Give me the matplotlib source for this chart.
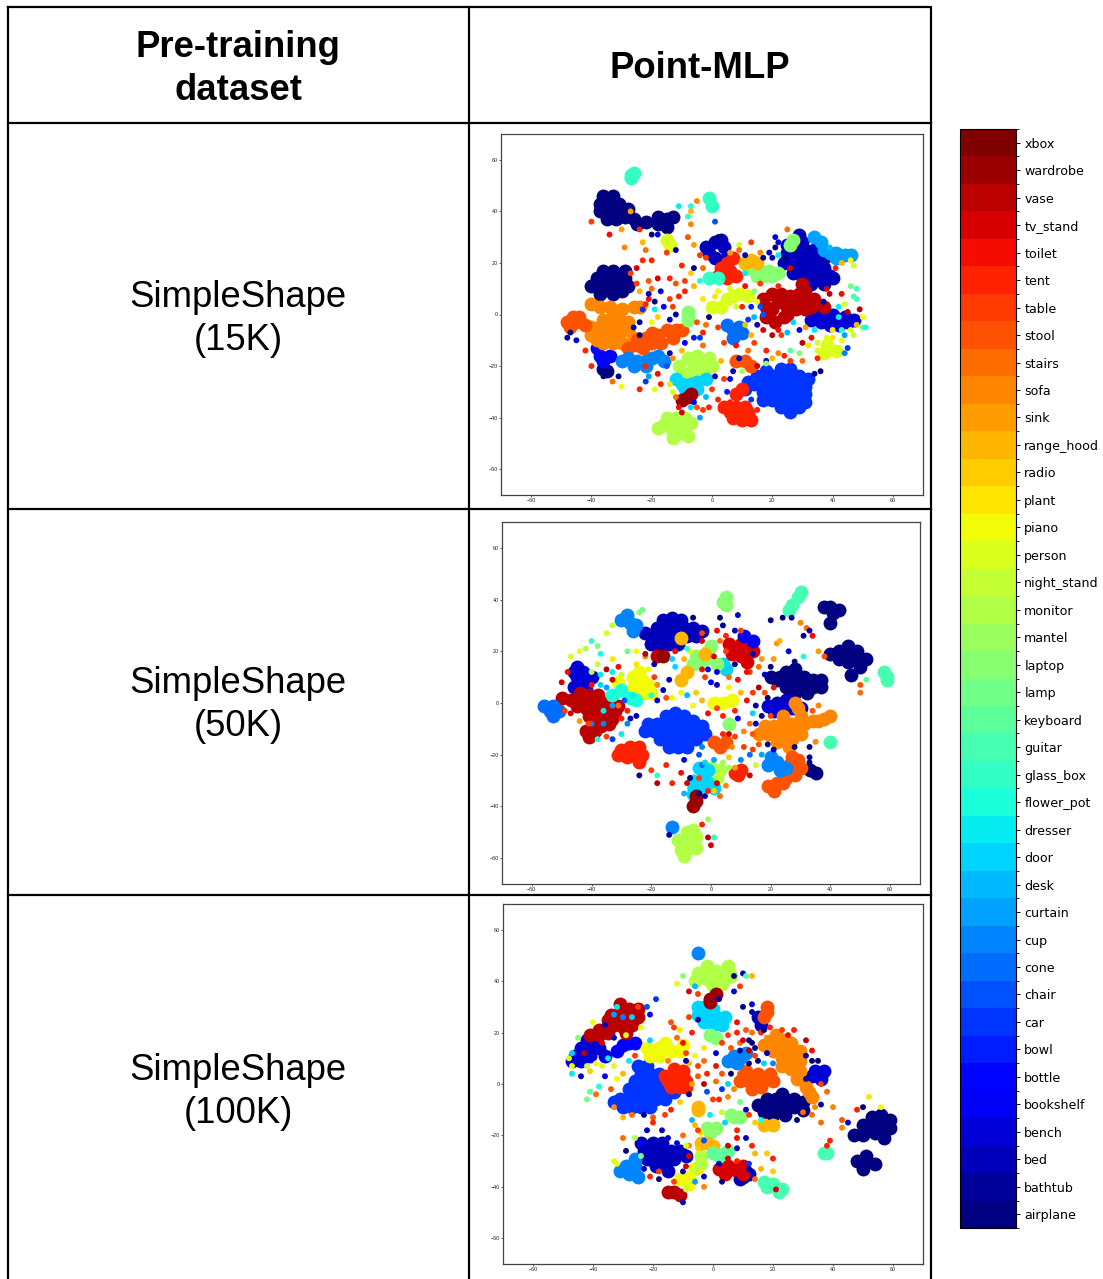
# -*- coding: utf-8 -*-
import matplotlib
matplotlib.use('Agg')
import numpy as np
import matplotlib.pyplot as plt
from matplotlib.colors import BoundaryNorm, ListedColormap
from matplotlib.colorbar import ColorbarBase

W, H = 1103, 1279
classes = ['airplane', 'bathtub', 'bed', 'bench', 'bookshelf', 'bottle', 'bowl', 'car', 'chair', 'cone',
           'cup', 'curtain', 'desk', 'door', 'dresser', 'flower_pot', 'glass_box', 'guitar', 'keyboard', 'lamp',
           'laptop', 'mantel', 'monitor', 'night_stand', 'person', 'piano', 'plant', 'radio', 'range_hood', 'sink',
           'sofa', 'stairs', 'stool', 'table', 'tent', 'toilet', 'tv_stand', 'vase', 'wardrobe', 'xbox']
row_names = ['SimpleShape\n(15K)', 'SimpleShape\n(50K)', 'SimpleShape\n(100K)']
ticks = [-60, -40, -20, 0, 20, 40, 60]

# dense clusters, read by eye: class, [(x, y), ...]
p1_airplane = [(-36,46),(-33,46),(-37,43),(-34,43),(-31,43),(-37,40),(-34,40),(-31,40),(-28,41),(-35,37),(-32,37),
               (-26,37),(-25,35),(-18,38),(-15,37),(-18,35),(-15,34),(-36,17),(-33,17),(-38,14),(-35,14),(-32,14),
               (-29,14),(-40,11),(-37,11),(-34,11),(-31,11),(-37,8),(-33,8),(-30,9),(-35,-22),(-36,-21),
               (-29,38),(-22,36),(-13,38),(-28,11),(-29,17)]
p1_bed = [(30,28),(27,25),(31,25),(34,25),(28,22),(31,22),(34,21),(28,19),(31,18),(34,18),(37,18),(39,15),(30,15),
          (33,15),(36,14),(40,14),(37,12),(1,28),(4,26),(-1,24),(1,22),(4,21),(25,27),(24,20),(27,16),(33,12),(25,24),
          (37,22),(-2,26),(6,22),(3,29),(29,31)]
p1_bench = [(35,0),(38,-2),(42,-2),(45,-3),(42,-4),(47,-2),(36,-3),(40,0),(33,-2),(44,-1),(39,-4)]
p1_vase = [(20,8),(22,5),(25,3),(28,5),(31,5),(34,6),(28,2),(24,-1),(21,-3),(20,2),(30,12),(31,9),(17,6),(18,3),(23,8),
           (26,7),(29,8),(33,3),(37,3),(18,-1),(25,0),(31,2)]
p1_car = [(23,-21),(26,-21),(20,-24),(23,-24),(26,-24),(29,-24),(32,-25),(14,-27),(17,-27),(20,-27),(23,-27),(26,-27),
          (29,-27),(31,-28),(11,-29),(17,-30),(20,-30),(23,-30),(26,-30),(29,-30),(31,-31),(20,-33),(23,-33),(26,-33),
          (29,-33),(31,-34),(23,-36),(26,-36),(29,-36),(15,-24),(18,-22),(12,-26),(17,-33),(26,-38)]
p1_cone = [(5,-4),(7,-6),(10,-7),(7,-9),(9,-5)]
p1_bottle = [(-37,-16),(-34,-16),(-38,-13),(-36,-18)]
p1_sofa = [(-40,-5),(-37,-5),(-34,-5),(-31,-5),(-28,-6),(-40,-8),(-37,-8),(-34,-8),(-31,-8),(-36,-2),(-33,-2),(-30,-3),
           (-36,-11),(-33,-11),(-30,-11),(-40,4),(-37,3),(-34,3),(-30,2),(-26,3),(-24,3),(-26,-9),(-28,-3),(-33,0),(-38,-10)]
p1_stool = [(-48,-3),(-45,-3),(-47,-5),(-44,-1),(-42,-4),(-25,-10),(-22,-9),(-20,-11),(-18,-8),(-15,-6),(-12,-6),
            (-25,-12),(-28,-13),(-10,-6),(8,-18),(11,-18),(13,-20),(-46,-1),(-23,-13),(-17,-11),(-13,-9),(-20,-7)]
p1_tent = [(6,-38),(9,-38),(12,-38),(7,-40),(10,-41),(13,-41),(8,-36),(11,-36),(4,-36),(8,-31),(10,-29),
           (5,20),(3,18),(6,17),(2,15),(5,14),(7,22),(8,15)]
p1_monitor = [(-13,-43),(-10,-43),(-16,-43),(-13,-46),(-10,-46),(-15,-40),(-12,-40),(-9,-40),(-7,-42),(-18,-44),
              (-13,-48),(-8,-47),(-8,-17),(-6,-20),(-3,-19),(-9,-23),(-6,-23),(-3,-22),(0,-20),(-11,-20),(-5,-16),(-1,-17)]
p1_door = [(-10,-27),(-7,-27),(-5,-29),(-12,-25),(-2,-25),(-9,-29),(-5,-26)]
p1_wardrobe = [(-8,-32),(-10,-33),(-7,-31)]
p1_cup = [(-28,-17),(-25,-18),(-22,-18),(-20,-17),(-30,-18),(-18,-16),(-26,-20),(-22,-20),(-16,-18)]
p1_lamp = [(16,17),(19,17),(17,15),(20,15),(15,19),(-8,1),(-8,-1),(27,29),(26,27),(12,18),(22,16),(15,15),(-8,-2)]
p1_range_hood = [(13,21),(15,20),(11,20)]
p1_glass_box = [(-1,45),(0,42),(-27,54),(-26,55),(-27,53),(-1,14),(2,14)]
p1_curtain = [(41,24),(44,23),(39,24),(46,23),(41,22),(36,28),(34,30),(37,25)]
p1_person = [(0,3),(5,6),(9,8),(12,7),(-15,29),(-14,27),(38,-12),(41,-14),(37,-15),(3,3),(7,7)]

p2_airplane = [(46,19),(43,20),(46,22),(49,20),(43,17),(46,16),(49,17),(52,17),(50,14),(40,37),(38,37),(41,35),(43,36),
               (40,31),(28,10),(25,9),(22,9),(31,10),(34,9),(28,7),(25,6),(31,7),(34,6),(37,6),(28,4),(32,4),(28,13),
               (25,12),(23,10),(47,11),(33,-26),(35,-27),(20,10),(37,9),(40,19)]
p2_bed = [(-16,32),(-13,33),(-10,32),(-18,29),(-15,29),(-12,29),(-9,29),(-6,29),(-20,26),(-17,26),(-14,26),(-11,26),
          (-8,26),(-20,23),(-17,23),(-14,23),(22,0),(25,1),(-5,26),(-22,27),(-11,23),(-3,28)]
p2_bench = [(-45,14),(-43,12),(-45,10),(-43,8),(-46,6),(-42,5),(27,-2),(30,-2),(21,-3),(-40,10),(-46,12),(24,-2),(19,-1)]
p2_car = [(-15,-5),(-12,-4),(-9,-5),(-6,-7),(-21,-8),(-18,-8),(-15,-8),(-12,-8),(-9,-8),(-6,-9),(-3,-9),(-22,-11),
          (-19,-11),(-16,-11),(-13,-11),(-10,-11),(-7,-11),(-4,-11),(-17,-14),(-14,-14),(-11,-14),(-8,-14),(-5,-14),
          (-14,-17),(-11,-17),(-8,-17),(-2,-12)]
p2_vase = [(-50,2),(-47,1),(-44,1),(-41,0),(-38,0),(-35,0),(-42,-2),(-38,-3),(-35,-3),(-32,-3),(-41,-5),(-37,-6),(-33,-6),
           (-42,-11),(-39,-11),(-41,-13),(-37,-9),(-44,4),(-41,3),(-18,18),(-38,3),(-34,-8),(-39,-8),(-45,-1),(-31,-1)]
p2_tent = [(-27,-17),(-30,-18),(-26,-20),(-23,-20),(-28,-21),(-24,-23),(9,-28),(10,-26),(8,-27),(-31,-20),(-24,-17)]
p2_cone = [(-53,-1),(-54,-3),(-51,-3),(-53,-5),(-56,-1)]
p2_sofa = [(18,-9),(21,-9),(24,-8),(27,-8),(19,-12),(22,-12),(25,-11),(28,-11),(31,-8),(24,-14),(27,-14),(22,-15),(30,-5),
           (24,-5),(38,-6),(36,-7),(40,-5),(29,-2),(28,0),(34,-7),(16,-12),(30,-12),(26,-17)]
p2_stool = [(26,-24),(29,-22),(30,-25),(27,-27),(25,-29),(22,-31),(19,-32),(21,-34),(24,-31),(28,-28),(1,-15),(3,-17),(27,-21),(24,-27),(5,-15)]
p2_cup = [(20,-21),(22,-23),(23,-26),(25,-25),(-30,32),(-27,31),(-25,30),(-28,34),(-13,-48),(19,-24),(-26,28)]
p2_monitor = [(-8,-53),(-5,-52),(-8,-50),(-11,-53),(-8,-56),(-5,-56),(-9,-59),(-6,-49),(-10,-57),(0,-25),(-1,-28),(3,-26),(2,-29)]
p2_door = [(-4,-25),(-1,-26),(-1,-31),(-3,-30),(-5,-33),(-2,-32),(4,15),(5,13),(-6,-30),(1,-33),(-6,-35)]
p2_wardrobe = [(-5,-38),(-5,-36),(-6,-40),(-16,18)]
p2_piano = [(-26,10),(-23,9),(-26,6),(-23,5),(-28,4),(-21,7),(1,0),(4,0),(7,1),(-24,12),(-20,4),(-31,8)]
p2_flower = [(-30,5),(-27,2),(-33,3),(-25,1)]
p2_lamp = [(5,41),(4,39),(5,38),(-4,16),(-6,15),(0,22),(-1,20),(2,15),(6,-8),(-5,18),(-2,17)]
p2_guitar = [(27,38),(26,36),(29,41),(30,43),(59,9),(59,10),(58,12),(40,-15)]
p2_tv_stand = [(8,21),(10,18),(12,16),(7,19),(12,23),(6,23),(10,23),(14,20)]
p2_bookshelf = [(14,24),(11,26)]
p2_range_hood = [(-8,12),(-10,9),(-10,25),(-2,19)]

p3_airplane = [(53,-13),(56,-12),(59,-14),(50,-16),(53,-16),(56,-16),(59,-17),(47,-20),(50,-20),(54,-19),(57,-21),(48,-30),
               (51,-30),(54,-31),(50,-33),(51,-28),(18,-6),(21,-6),(24,-6),(27,-6),(15,-8),(18,-9),(21,-9),(24,-9),(27,-9),
               (30,-7),(20,-12),(24,-12),(23,-4),(30,-10),(17,-11)]
p3_bed = [(-20,-23),(-17,-23),(-23,-26),(-20,-26),(-17,-26),(-14,-26),(-11,-26),(-22,-29),(-19,-29),(-16,-29),(-13,-29),
          (-19,-32),(-16,-32),(10,-36),(12,-35),(9,-37),(15,26),(16,23),(-24,-23),(-15,-34),(-9,-28)]
p3_bench = [(34,5),(35,4),(37,5),(33,3),(36,2),(-42,17),(-39,17),(-44,14),(-41,14),(-38,14),(-46,11),(-44,9),(-36,11),(-47,9),(-41,11)]
p3_bottle = [(-30,15),(-28,16),(-32,13),(-26,16)]
p3_car = [(-25,7),(-22,7),(-24,4),(-21,4),(-18,4),(-26,1),(-23,1),(-20,1),(-17,1),(-28,-2),(-25,-2),(-22,-2),(-19,-2),(-16,-3),
          (-13,-3),(-31,-6),(-28,-5),(-25,-5),(-22,-5),(-19,-6),(-16,-6),(-30,-9),(-27,-9),(-24,-9),(-21,-9),(-33,-7)]
p3_toilet = [(-16,3),(-13,4),(-10,3),(-15,1),(-12,1),(-9,1),(-14,-1),(-11,-1),(-13,6),(-10,5),(-9,-1)]
p3_vase = [(-34,27),(-31,28),(-28,29),(-25,29),(-35,25),(-31,25),(-28,25),(-33,23),(-30,22),(-27,23),(-38,21),(-41,19),(-35,20),
           (-13,-42),(-11,-43),(-15,-42),(-38,19),(-31,31),(-25,26),(-29,20)]
p3_sofa = [(20,17),(23,17),(26,16),(20,13),(23,13),(26,13),(29,13),(23,10),(26,10),(29,9),(26,6),(29,5),(28,2),(31,-1),(33,-5),(17,15),(23,7),(32,-3),(21,19)]
p3_stool = [(12,1),(15,1),(18,2),(13,-2),(16,-1),(19,4),(17,26),(18,28),(18,30),(15,4),(20,1),(11,5),(9,1)]
p3_cup = [(7,11),(9,10),(8,8),(11,12),(-29,-32),(-26,-32),(-28,-35),(-25,-36),(-31,-34),(-5,51),(5,9),(-26,-29)]
p3_monitor = [(-2,44),(1,44),(4,44),(-5,43),(-2,41),(1,41),(4,41),(0,38),(3,39),(-6,-33),(-4,-31),(-4,-28),(5,46),(-6,40),(-2,46),(6,42)]
p3_door = [(-3,30),(0,29),(-5,27),(-2,26),(1,26),(4,26),(-3,24),(0,23),(3,23),(-5,30)]
p3_wardrobe = [(-1,32),(-1,33),(1,35)]
p3_lamp = [(6,-12),(7,-13),(9,-13),(-2,-17),(1,-17),(-1,19),(1,18),(-1,-19)]
p3_guitar = [(17,-38),(18,-40),(20,-39),(22,-42),(23,-41),(37,-27),(38,-27)]
p3_radio = [(-2,-23),(0,-24),(-5,-9),(-5,-10),(20,-16),(17,-16),(-4,-23)]
p3_tv_stand = [(5,-32),(8,-33),(10,-32),(4,-35),(10,-35),(2,-33)]
p3_piano = [(-22,14),(-18,14),(-14,13),(-21,11),(-11,13),(-16,16),(-8,-36),(-11,-37),(-18,11),(-10,15),(-8,-39)]
p3_keyboard = [(0,-27),(4,-27),(2,-28),(5,-26)]

# sparse single points: (x, y, class index)
p1_dots = [(-45,-10,3),(-48,-9,1),(-47,-7,0),(-42,-14,34),(-40,-20,34),(-36,-24,0),(-31,-24,1),(-33,-26,31),(-30,-28,25),
           (-22,-20,34),(-18,-23,35),(-22,-26,7),(-19,-29,24),(-14,-27,26),(-12,-32,31),(-10,-38,36),(-5,-36,32),(-4,-40,11),
           (-3,-37,33),(-1,-36,34),(0,-29,33),(2,-33,34),(3,-37,34),(5,-30,6),(4,-25,33),(7,-22,2),(-2,-32,12),(-6,-34,4),
           (-24,-3,0),(-26,-5,2),(-24,-8,0),(-23,2,7),(-20,-3,25),(-18,-1,27),(-14,-2,3),(-12,0,1),(-9,-11,5),(-6,-9,6),
           (-4,-9,7),(-3,-7,34),(-2,-4,31),(2,-5,33),(4,-11,33),(8,-12,35),(12,-14,31),(14,-11,33),(13,-8,28),(11,-4,28),
           (15,-4,2),(14,-1,12),(17,0,8),(17,-6,36),(20,-8,37),(22,-6,35),(25,-7,12),(29,-6,3),(33,-9,35),(30,-11,37),
           (26,-14,18),(29,-15,20),(32,-12,26),(35,-14,24),(40,-9,26),(44,-8,11),(46,-6,24),(48,-4,28),(50,-1,25),(49,2,37),
           (45,1,37),(42,3,14),(44,4,24),(50,-5,19),(46,11,19),(43,8,35),(39,8,37),(37,5,2),(30,-18,31),(24,-16,34),
           (22,-15,30),(18,-14,34),(18,-18,2),(34,-23,1),(35,-17,34),(44,-15,10),(45,-13,7),
           (-23,21,34),(-25,18,36),(-27,16,33),(-21,13,32),(-20,10,31),(-24,9,28),(-21,6,35),(-17,9,3),(-19,5,0),(-22,4,34),
           (-19,2,14),(-14,6,33),(-11,7,34),(-9,9,34),(-12,12,32),(-9,13,33),(-6,11,28),(-4,13,15),(-7,16,27),(-3,18,31),
           (-2,22,33),(-6,27,29),(-8,30,32),(-12,25,1),(-15,24,33),(-20,21,34),(-22,25,31),(-23,28,28),(-20,31,0),(-18,31,3),
           (-24,33,34),(-30,33,29),(-29,26,30),(-40,36,33),(-34,31,35),(-27,40,29),(-8,38,16),(-7,42,15),(-11,42,14),(-7,35,30),
           (-7,40,28),(-5,44,30),(1,36,8),(2,30,0),(6,24,29),(9,27,24),(11,23,2),(13,28,33),(8,21,34),(16,24,30),(21,30,4),
           (25,33,31),(22,28,3),(19,24,2),(24,22,0),(26,18,36),(22,11,34),(16,12,33),(14,9,20),(11,11,35),(13,3,6),(15,5,25),
           (8,3,24),(1,7,26),(-1,-1,0),(-10,-14,28),(-14,-15,1),(-3,-12,31),(47,7,17),(48,10,17),(51,-5,15),(42,-1,14),(9,-17,2),
           (-21,-24,11),(-24,-29,34),(-15,-20,8),(-13,-17,30),(-17,-27,34),(-13,-30,24),(-7,-36,13),(-11,-36,35),(1,-24,2),(3,-18,28),
           (6,-25,5),(6,-34,34),(13,-33,7),(15,-37,34),(10,-22,21),(15,-20,36),(20,-17,28),(18,-19,20),(26,-18,33),(36,-22,0),
           (40,-6,26),(35,-11,24),(38,-9,24),(43,-10,25),(47,-8,23),(43,-6,15),(34,-6,14),(31,-5,29),(27,-3,13),(23,-8,33),
           (12,-2,7),(16,3,8),(10,3,34),(6,10,24),(2,9,25),(-3,6,26),(-5,-3,32),(-13,3,33),(-16,3,5),(-21,8,2),(-25,12,33),
           (-18,14,36),(-14,14,34),(-10,19,34),(-6,18,1),(-4,23,33),(9,25,31),(11,16,14),(17,22,1),(20,22,2),(21,26,0),(22,23,14),
           (39,26,12),(43,20,28),(46,21,25),(47,19,24),(41,18,34),(38,10,36),(48,6,17)]
p2_dots = [(-40,24,16),(-38,22,20),(-37,19,15),(-33,17,26),(-31,14,35),(-35,13,37),(-38,15,23),(-40,12,22),(-37,11,14),
           (-33,9,36),(-35,6,11),(-31,-1,31),(-28,-3,34),(-25,-5,2),(-28,-8,10),(-30,-12,14),(-33,-14,7),(-38,-14,15),
           (-35,-13,33),(-44,-7,29),(-47,-4,36),(-40,-8,10),(-50,8,36),(-48,12,35),(-47,18,24),(-44,20,25),(-42,21,22),
           (-28,20,19),(-25,20,25),(-22,18,30),(-14,9,2),(-16,5,2),(-18,7,30),(-20,3,15),(-18,1,2),(-15,2,32),(-13,2,25),
           (-10,4,25),(-8,3,12),(-5,4,27),(-6,-1,25),(-3,1,28),(-1,-4,35),(2,-2,33),(4,-5,34),(8,-3,34),(9,-6,5),(6,-12,36),
           (8,-13,33),(11,-11,30),(13,-8,31),(14,-4,13),(15,-1,1),(12,1,35),(14,4,33),(16,6,37),(18,4,32),(10,4,28),(6,6,25),
           (2,7,2),(0,8,5),(-2,10,33),(-1,13,4),(2,12,3),(6,10,31),(9,9,35),(13,12,33),(16,14,31),(18,11,2),(20,14,0),(21,17,29),
           (26,20,3),(28,16,1),(31,18,15),(22,23,29),(23,24,28),(9,34,2),(3,33,0),(4,30,1),(8,28,2),(14,19,1),(30,31,30),(32,29,31),
           (27,33,1),(24,33,0),(20,32,0),(31,26,0),(33,28,2),(34,26,35),(50,7,32),(50,4,31),(52,9,18),(38,18,32),(36,20,29),(-3,27,33),
           (-3,24,36),(2,28,35),(-6,33,0),(-24,35,20),(-23,36,19),(-33,30,23),(-35,27,24),(-9,-22,2),(-4,-20,8),(-3,-24,9),(-3,-17,10),
           (-15,-24,34),(-20,-26,33),(-18,-28,16),(-24,-28,1),(-18,-31,37),(-10,-27,35),(-8,-31,36),(-7,-29,0),(-9,-35,12),(5,-32,30),
           (3,-36,31),(8,-25,29),(10,-22,10),(13,-20,9),(14,-18,33),(15,-24,23),(13,-28,36),(16,-16,32),(17,-20,11),(33,-23,0),(35,-15,30),
           (-2,-36,2),(1,-34,27),(-3,-47,34),(-1,-45,21),(1,-52,16),(0,-55,36),(-1,-52,37),(-14,-51,2),(6,-25,21),(-13,-31,34),
           (-36,-3,14),(-33,-1,11),(-39,-6,36),(-36,-8,10),(-41,-8,33),(-30,-6,34),(-27,-6,2),(-29,1,8),(-26,3,14),(-22,2,24),(-25,15,26),
           (-21,13,25),(-19,10,33),(-33,12,14),(-30,11,23),(-37,7,13),(-40,7,35),(-49,-3,33),(-2,-23,13),(1,-22,11),(4,-23,21),(6,-21,27),
           (-4,-29,33),(2,-31,36),(-1,-34,34),(-4,-35,0),(-7,-33,13),(3,-28,23),(7,-17,30),(4,-12,34),(11,-17,33),(14,-12,32),(19,-16,0),
           (21,-18,2),(28,-17,0),(33,-17,0),(33,-21,1),(15,-8,2),(17,-5,1),(19,2,0),(21,6,35),(17,17,29),(20,-5,33),(34,-3,32),(36,-1,30),
           (-12,20,35),(-9,17,28),(-12,14,13),(-7,20,25),(-3,13,35),(1,18,36),(5,20,33),(8,15,1),(12,12,35),(3,24,31),(5,26,34),(10,28,33),
           (-22,19,37),(-19,15,1),(-13,17,13),(-8,21,16)]
p3_dots = [(-48,10,24),(-47,7,25),(-47,4,14),(-44,3,2),(-41,5,27),(-39,8,25),(-35,10,14),(-33,7,24),(-30,4,28),(-36,3,5),
           (-38,-1,15),(-41,-3,18),(-42,-6,19),(-39,-4,31),(-34,-2,32),(-33,-9,30),(-30,-13,28),(-27,-12,31),(-23,-12,1),(-20,-13,32),
           (-16,-12,33),(-14,-10,34),(-11,-7,27),(-8,-4,1),(-7,0,29),(-5,3,32),(-3,0,37),(-2,-3,8),(0,-6,33),(2,-6,34),(5,-5,30),
           (7,-2,30),(9,-7,19),(11,-10,2),(-1,-12,14),(3,-11,23),(-7,-14,12),(-6,-16,28),(-4,-19,26),(4,-15,13),(8,-18,34),(11,-21,2),
           (13,-24,34),(8,-21,35),(8,-25,2),(5,-24,36),(14,-27,28),(18,-27,27),(20,-29,34),(12,-31,7),(16,-33,28),(20,-34,27),(14,-37,31),
           (21,-41,36),(-30,-21,31),(-26,-21,22),(-24,-23,5),(-24,-28,19),(-29,-26,0),(-32,-31,25),(-21,-36,34),(-18,-37,0),(-13,-38,33),
           (-8,-24,30),(-8,-28,36),(-10,-34,2),(-6,-38,11),(-3,-40,30),(-9,-41,23),(-10,-46,2),(-3,-36,2),(-3,-22,8),(-10,-20,31),(-17,-18,2),
           (-22,-18,2),(-15,-21,3),(-20,-15,34),(-5,-18,33),(5,0,13),(3,4,32),(1,7,35),(-3,9,31),(-6,11,25),(-8,8,28),(-3,14,26),(1,12,3),
           (3,16,33),(6,14,32),(9,16,31),(12,17,0),(14,14,0),(16,20,34),(18,18,30),(13,20,31),(8,24,35),(11,21,32),(10,30,0),(13,31,3),
           (13,28,2),(17,21,0),(27,21,34),(25,19,35),(31,17,37),(33,13,35),(35,9,0),(31,2,0),(36,0,33),(38,-3,31),(40,-9,30),(36,-8,2),
           (33,-12,31),(30,-11,31),(28,-14,0),(12,-12,33),(14,-15,27),(16,-14,15),(36,-15,31),(43,-14,32),(43,-17,30),(45,-15,2),(39,-22,34),
           (38,-24,34),(48,-10,34),(50,-9,0),(52,-5,26),(56,-9,25),(-9,12,33),(-12,18,31),(-13,22,33),(-14,24,32),(-11,21,26),(-10,16,35),
           (-7,20,34),(-5,25,1),(-8,26,33),(-19,33,7),(-21,27,5),(-22,30,8),(-24,22,25),(-29,19,24),(-40,24,25),(-45,18,20),(-47,12,13),
           (10,43,2),(7,42,0),(11,42,18),(13,42,28),(9,38,33),(-10,42,20),(-8,36,36),(-12,39,24),(-5,35,33),(-6,38,12),(7,36,3),(2,33,2),
           (-33,27,11),(-30,26,10),(-27,26,13),(-32,30,14),(-25,30,33),(-36,23,2),(-33,18,3),(-37,16,36),(-43,12,37),(-42,7,23),(-37,7,24),
           (-32,2,25),(-28,9,14),(-26,11,33),(-21,17,13),(-15,9,30),(-9,9,1),(-5,7,33),(-2,4,34),(1,1,31),(3,-2,7),(6,4,0),(9,4,32),(12,8,0),
           (15,9,0),(17,8,13),(20,8,10),(18,12,2),(14,11,33),(12,13,37),(9,13,1),(5,19,33),(8,20,34),(10,17,36),(13,16,0),(19,22,34),(23,21,33),
           (33,9,0),(31,11,2),(34,-9,30),(-12,-23,3),(-9,-24,24),(-5,-25,27),(-7,-32,25),(-4,-34,26),(-9,-32,36),(2,-31,2),(5,-29,36),(8,-30,34),
           (12,-33,2),(7,-35,36),(3,-38,0),(-18,-34,33),(-23,-33,2),(-33,-30,24)]

p1_blobs = [(0, p1_airplane), (2, p1_bed), (3, p1_bench), (37, p1_vase), (7, p1_car), (9, p1_cone), (5, p1_bottle),
            (30, p1_sofa), (32, p1_stool), (34, p1_tent), (22, p1_monitor), (13, p1_door), (38, p1_wardrobe),
            (10, p1_cup), (20, p1_lamp), (28, p1_range_hood), (16, p1_glass_box), (11, p1_curtain), (24, p1_person)]
p2_blobs = [(0, p2_airplane), (2, p2_bed), (3, p2_bench), (7, p2_car), (37, p2_vase), (34, p2_tent), (9, p2_cone),
            (30, p2_sofa), (32, p2_stool), (10, p2_cup), (22, p2_monitor), (13, p2_door), (38, p2_wardrobe),
            (25, p2_piano), (15, p2_flower), (20, p2_lamp), (17, p2_guitar), (36, p2_tv_stand), (4, p2_bookshelf),
            (28, p2_range_hood)]
p3_blobs = [(0, p3_airplane), (2, p3_bed), (3, p3_bench), (5, p3_bottle), (7, p3_car), (34, p3_toilet), (37, p3_vase),
            (30, p3_sofa), (32, p3_stool), (10, p3_cup), (22, p3_monitor), (13, p3_door), (38, p3_wardrobe),
            (20, p3_lamp), (17, p3_guitar), (28, p3_radio), (36, p3_tv_stand), (25, p3_piano), (18, p3_keyboard)]

# pixel boxes left, top, right, bottom
boxes = [(501, 134, 923, 495), (502, 522, 920, 884), (503, 904, 923, 1264)]


def px_axes(fig, left, top, right, bottom):
    return fig.add_axes([left / W, 1 - bottom / H, (right - left) / W, (bottom - top) / H])


def draw_panel(ax, blobs, dots):
    for c, pts in blobs:
        p = np.array(pts)
        ax.scatter(p[:, 0], p[:, 1], color=plt.get_cmap('jet')(c / 39.0), s=100, linewidths=0)
    d = np.array(dots)
    ax.scatter(d[:, 0], d[:, 1], c=d[:, 2], cmap='jet', vmin=0, vmax=39, s=18, linewidths=0)
    ax.set_xlim(-70, 70)
    ax.set_ylim(-70, 70)
    ax.set_xticks(ticks)
    ax.set_yticks(ticks)
    ax.tick_params(labelsize=3.9, length=1.2, width=0.5, pad=1, colors='#222222')
    for s in ax.spines.values():
        s.set_linewidth(0.9)
        s.set_color('#444444')


plt.rcParams['font.family'] = ['Liberation Sans', 'DejaVu Sans']
fig = plt.figure(figsize=(W / 100, H / 100), dpi=100)

# table grid drawn in pixel coordinates
bg = fig.add_axes([0, 0, 1, 1])
bg.set_xlim(0, W)
bg.set_ylim(H, 0)
bg.axis('off')
bg.plot([8, 931, 931, 8, 8], [7, 7, 1285, 1285, 7], color='black', lw=1.6)
bg.plot([469, 469], [7, 1285], color='black', lw=1.6)
for yl in [123, 509, 895]:
    bg.plot([8, 931], [yl, yl], color='black', lw=1.6)

bg.text(238, 69, 'Pre-training\ndataset', ha='center', va='center', fontsize=26.3, fontweight='bold', linespacing=1.3)
bg.text(700, 68, 'Point-MLP', ha='center', va='center', fontsize=26.3, fontweight='bold')
for name, yc in zip(row_names, [319, 705, 1092]):
    bg.text(238, yc, name, ha='center', va='center', fontsize=26.3, linespacing=1.33)

draw_panel(px_axes(fig, *boxes[0]), p1_blobs, p1_dots)
draw_panel(px_axes(fig, *boxes[1]), p2_blobs, p2_dots)
draw_panel(px_axes(fig, *boxes[2]), p3_blobs, p3_dots)

# discrete colour bar
cax = px_axes(fig, 960, 129, 1016, 1228)
cmap = ListedColormap(plt.get_cmap('jet')(np.linspace(0, 1, 40)))
norm = BoundaryNorm(np.arange(-0.5, 40.5), 40)
cb = ColorbarBase(cax, cmap=cmap, norm=norm, ticks=np.arange(40))
cb.set_ticklabels(classes)
cax.tick_params(length=3, width=0.7, labelsize=9.1, pad=3)
for t in cax.get_yticklabels():
    t.set_fontfamily('DejaVu Sans')
cb.outline.set_linewidth(0.8)

fig.savefig('out.png', dpi=100)
